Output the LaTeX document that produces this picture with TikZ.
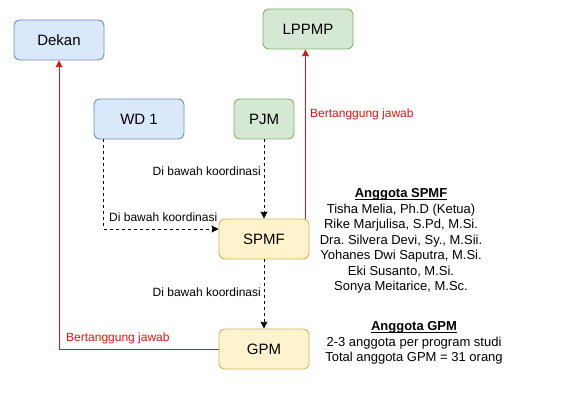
\documentclass[tikz,border=0pt]{standalone}
\usepackage{fontspec}
\setmainfont{Liberation Sans}
\frenchspacing
\usetikzlibrary{arrows.meta,positioning}
\definecolor{bfill}{HTML}{DAE8FC}\definecolor{bdraw}{HTML}{6C8EBF}
\definecolor{gfill}{HTML}{D5E8D4}\definecolor{gdraw}{HTML}{82B366}
\definecolor{yfill}{HTML}{FFF2CC}\definecolor{ydraw}{HTML}{D6B656}
\definecolor{redline}{RGB}{222,20,20}
\newcommand\ulx[1]{\setbox0\hbox{#1}\rlap{\rule[-2pt]{\wd0}{0.8pt}}\box0}
\tikzset{
  boxbase/.style={rounded corners=6pt, line width=0.9pt, minimum height=40pt, font=\fontsize{15}{18}\selectfont, inner sep=0pt},
  bluebox/.style={boxbase, fill=bfill, draw=bdraw, minimum width=90pt},
  greenbox/.style={boxbase, fill=gfill, draw=gdraw, minimum width=90pt},
  yellowbox/.style={boxbase, fill=yfill, draw=ydraw, minimum width=90pt},
  coord/.style={line width=0.8pt, dash pattern=on 3pt off 3pt, -{Stealth[length=7pt,width=7pt,inset=1pt]}},
  resp/.style={line width=0.9pt, draw=redline, -{Stealth[length=7pt,width=7pt,inset=1pt]}, color=redline},
  lbl/.style={font=\fontsize{12}{14}\selectfont, inner sep=1pt},
  rlbl/.style={lbl, text=redline},
  members/.style={font=\fontsize{13}{15.5}\selectfont\frenchspacing, align=center, inner sep=0pt}
}
\begin{document}
\begin{tikzpicture}[x=1pt,y=-1pt]
\useasboundingbox (0,0) rectangle (561,406);
\node[bluebox] (dekan) at (59,40) {Dekan};
\node[greenbox] (lppmp) at (308,29) {LPPMP};
\node[bluebox] (wd1) at (139,119) {WD 1};
\node[greenbox, minimum width=60pt] (pjm) at (264,119) {PJM};
\node[yellowbox] (spmf) at (264,239) {SPMF};
\node[yellowbox] (gpm) at (264,349) {GPM};

\draw[coord] (pjm.south) -- (spmf.north);
\draw[coord] ([xshift=10pt]wd1.south west) |- ([yshift=10pt]spmf.west);
\draw[coord] (spmf.south) -- (gpm.north);
\coordinate (s1) at ([xshift=-4pt]spmf.north east);
\draw[resp] (s1) -- (s1 |- lppmp.south);
\draw[resp] (gpm.west) -| (dekan.south);

\node[lbl, anchor=east] (l1) at (262,171) {Di bawah koordinasi};
\node[lbl, anchor=west] (l2) at (108,217) {Di bawah koordinasi};
\node[lbl, anchor=east] (l3) at (262,292) {Di bawah koordinasi};
\node[rlbl, anchor=west] (l4) at (309,114) {Bertanggung jawab};
\node[rlbl, anchor=west] (l5) at (65,338) {Bertanggung jawab};

\node[members] (spmfm) at (401,241) {\ulx{\textbf{Anggota SPMF}}\\Tisha Melia, Ph.D (Ketua)\\Rike Marjulisa, S.Pd, M.Si.\\Dra. Silvera Devi, Sy., M.Sii.\\Yohanes Dwi Saputra, M.Si.\\Eki Susanto, M.Si.\\Sonya Meitarice, M.Sc.};
\node[members] (gpmm) at (414,343) {\ulx{\textbf{Anggota GPM}}\\2-3 anggota per program studi\\Total anggota GPM = 31 orang};
\end{tikzpicture}
\end{document}
